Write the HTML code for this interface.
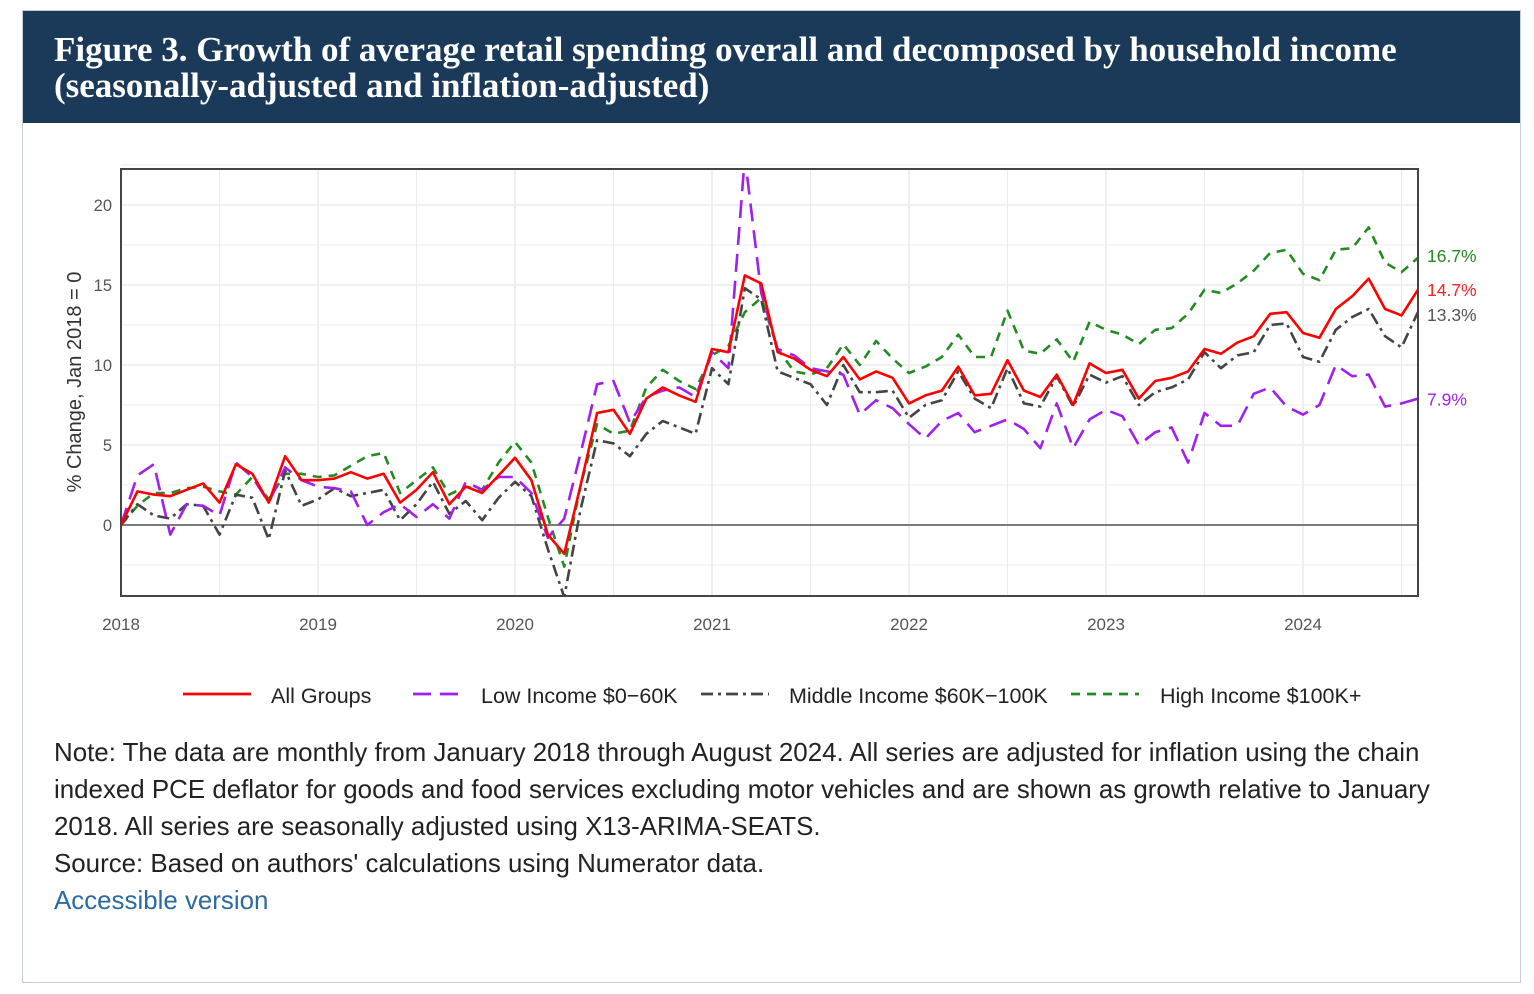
<!DOCTYPE html>
<html><head><meta charset="utf-8"><style>
body{margin:0;background:#fff;width:1534px;height:994px;overflow:hidden;font-family:"Liberation Sans",sans-serif}
#box{position:absolute;left:22px;top:10px;width:1497px;height:971px;border:1px solid #c8ced6}
#hdr{position:absolute;left:0;top:0;width:1497px;height:112px;background:#1b3a5a;color:#fff;font-family:"Liberation Serif",serif;font-size:35px;font-weight:bold;line-height:36px;padding:21px 0 0 31px;box-sizing:border-box;white-space:nowrap}
#note{position:absolute;left:31px;top:724px;width:1400px;font-size:25.9px;line-height:37px;color:#222}
#note a{color:#2c6aa0;text-decoration:none}
svg{position:absolute;left:0;top:0}
</style></head><body>
<div id="box">
<div id="hdr">Figure 3. Growth of average retail spending overall and decomposed by household income<br>(seasonally-adjusted and inflation-adjusted)</div>
<div id="note">Note: The data are monthly from January 2018 through August 2024. All series are adjusted for inflation using the chain indexed PCE deflator for goods and food services excluding motor vehicles and are shown as growth relative to January 2018. All series are seasonally adjusted using X13-ARIMA-SEATS.<br>Source: Based on authors' calculations using Numerator data.<br><a href="#">Accessible version</a></div>
</div>
<svg id="chart" width="1534" height="994"></svg>
<script>
const years=["2018","2019","2020","2021","2022","2023","2024"];
const yTicks=[0,5,10,15,20];
const allGroups=[0,2.1,1.9,1.8,2.2,2.6,1.4,3.8,3.2,1.4,4.3,2.8, 2.8,2.9,3.3,2.9,3.2,1.4,2.2,3.3,1.3,2.4,2.0,3.1, 4.2,2.8,-0.6,-1.8,2.5,7.0,7.2,5.7,7.9,8.6,8.1,7.7, 11.0,10.8,15.6,15.1,10.8,10.4,9.7,9.3,10.5,9.1,9.6,9.2, 7.6,8.1,8.4,9.9,8.1,8.2,10.3,8.4,8.0,9.4,7.5,10.1, 9.5,9.7,7.9,9.0,9.2,9.6,11.0,10.7,11.4,11.8,13.2,13.3, 12.0,11.7,13.5,14.3,15.4,13.5,13.1,14.7];
const lowIncome=[0,3.1,3.8,-0.6,1.3,1.2,0.6,3.9,3.0,1.4,3.6,2.8, 2.4,2.3,2.1,0.0,0.8,1.3,0.5,1.3,0.4,2.7,2.2,3.0, 3.0,2.0,-0.8,0.4,4.5,8.8,9.0,6.4,8.0,8.4,8.6,8.0, 10.8,9.8,23,14.5,11.0,10.6,9.8,9.6,9.4,6.9,7.8,7.3, 6.3,5.4,6.5,7.0,5.8,6.2,6.6,6.0,4.8,7.6,4.8,6.6, 7.2,6.8,5.0,5.8,6.1,3.9,7.0,6.2,6.2,8.2,8.6,7.4, 6.9,7.5,10.0,9.3,9.4,7.4,7.6,7.9];
const middleIncome=[0,1.3,0.6,0.4,1.3,1.2,-0.6,1.9,1.7,-0.9,3.4,1.2, 1.6,2.3,1.8,2.0,2.2,0.3,1.3,2.7,0.7,1.5,0.3,1.7, 2.7,1.8,-1.5,-4.5,1.0,5.3,5.1,4.3,5.7,6.5,6.1,5.7, 9.8,8.8,14.8,14.1,9.6,9.2,8.8,7.5,10.0,8.3,8.3,8.4, 6.7,7.5,7.8,9.6,7.9,7.3,9.8,7.6,7.4,9.3,7.4,9.4, 8.9,9.3,7.5,8.3,8.6,9.1,10.8,9.8,10.6,10.8,12.5,12.6, 10.5,10.2,12.2,13.0,13.5,11.8,11.1,13.3];
const highIncome=[0,1.2,2.0,2.0,2.3,2.4,2.1,1.9,3.0,1.6,3.2,3.2, 3.0,3.1,3.7,4.3,4.5,2.0,2.8,3.6,1.9,2.4,2.2,3.9, 5.2,3.9,0.5,-2.6,2.5,6.3,5.7,5.9,8.6,9.7,9.0,8.5, 10.6,11.2,13.3,14.2,11.0,9.6,9.4,9.8,11.3,10.0,11.5,10.4, 9.5,9.9,10.5,11.9,10.5,10.5,13.4,10.9,10.7,11.6,10.2,12.7, 12.2,11.9,11.3,12.2,12.3,13.2,14.7,14.5,15.1,15.9,17.0,17.2, 15.7,15.3,17.2,17.3,18.6,16.4,15.8,16.7];
const seriesNames=["All Groups","Low Income $0\u221260K","Middle Income $60K\u2212100K","High Income $100K+"];
const endLabels=["14.7%","7.9%","13.3%","16.7%"];

const NS="http://www.w3.org/2000/svg";
const svg=document.getElementById('chart');
const L=121,R=1418,T=169,B=596;
const x=m=>L+m*(1303-121)/72;
const y=v=>525-v*16;
function mk(t,a,p){const e=document.createElementNS(NS,t);for(const k in a)e.setAttribute(k,a[k]);(p||svg).appendChild(e);return e;}
for(let v=-2.5;v<=22.5;v+=2.5){const g=mk('line',{x1:L,x2:R,y1:y(v),y2:y(v),stroke:'#ebebeb','stroke-width':Number.isInteger(v/5)?1.6:1});

}
for(let m=0;m<=84;m+=6){if(x(m)>R)break;const g=mk('line',{x1:x(m),x2:x(m),y1:T,y2:B,stroke:'#ebebeb','stroke-width':m%12?1:1.6});

}
const zl=mk('line',{x1:L,x2:R,y1:y(0),y2:y(0),stroke:'#555','stroke-width':1.6});


yTicks.forEach(v=>{const t=mk('text',{x:112,y:y(v)+6,'text-anchor':'end','font-size':16.5,fill:'#555'});t.textContent=v;

});
years.forEach((s,i)=>{const t=mk('text',{x:x(i*12),y:630,'text-anchor':'middle','font-size':17,fill:'#555'});t.textContent=s;

});
const yt=mk('text',{transform:'translate(81,382) rotate(-90)','text-anchor':'middle','font-size':20,fill:'#333'});yt.textContent='% Change, Jan 2018 = 0';


const defs=mk('defs',{});const cp=mk('clipPath',{id:'clip'},defs);mk('rect',{x:L,y:T,width:R-L,height:B-T},cp);
const styles=[{c:'#ff0000',d:''},{c:'#a020f0',d:'18 9'},{c:'#444444',d:'12 5 3 5'},{c:'#228b22',d:'9 7'}];
const data=[allGroups,lowIncome,middleIncome,highIncome];
const order=[3,2,1,0];
const names=['all-groups-line','low-income-line','middle-income-line','high-income-line'];
order.forEach(i=>{const p=mk('polyline',{points:data[i].map((v,m)=>x(m)+','+y(v)).join(' '),fill:'none',stroke:styles[i].c,'stroke-width':2.6,'stroke-dasharray':styles[i].d,'clip-path':'url(#clip)','stroke-linejoin':'round'});

});
const fr=mk('rect',{x:L,y:T,width:R-L,height:B-T,fill:'none',stroke:'#444','stroke-width':2});


const ly=[y(data[0][79]),y(data[1][79]),y(data[2][79]),y(data[3][79])];
const labCol=['#ff2020','#a020f0','#555','#228b22'];
const off=[1,2,4,-1];
endLabels.forEach((s,i)=>{const t=mk('text',{x:1427,y:ly[i]+5+off[i],'font-size':17.5,fill:labCol[i]});t.textContent=s;

});
const lx=[183,413,701,1071],tx=[271,481,789,1160],lw=[68,50,68,68];
seriesNames.forEach((s,i)=>{const l=mk('line',{x1:lx[i],x2:lx[i]+lw[i],y1:694,y2:694,stroke:styles[i].c,'stroke-width':2.8,'stroke-dasharray':styles[i].d});


const t=mk('text',{x:tx[i],y:703,'font-size':21.5,fill:'#222'});t.textContent=s;

});
</script>
</body></html>
